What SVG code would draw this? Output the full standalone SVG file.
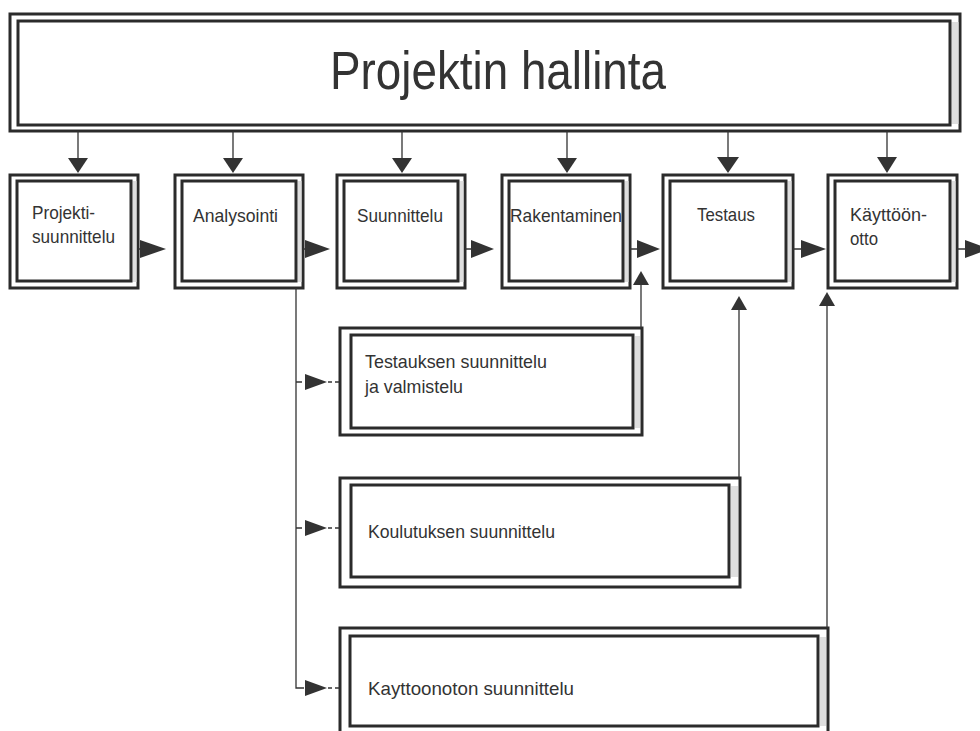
<svg xmlns="http://www.w3.org/2000/svg" width="980" height="731" viewBox="0 0 980 731">
  <style>
    .o { fill: #fff; stroke: #2b2b2b; stroke-width: 3; }
    .i { fill: #fff; stroke: #2b2b2b; stroke-width: 3; }
    .gap { fill: #dedede; }
    .t { font-family: "Liberation Sans Narrow", "Liberation Sans", Arial, sans-serif; font-size: 18.5px; fill: #333; }
    .title { font-family: "Liberation Sans Narrow", "Liberation Sans", Arial, sans-serif; font-size: 54px; fill: #333; }
    .ln { stroke: #333; stroke-width: 1.3; fill: none; }
    .dash { stroke: #333; stroke-width: 1.3; fill: none; stroke-dasharray: 4 3; }
    .ah { fill: #333; }
  </style>
  <rect width="980" height="731" fill="#fff"/>

  <!-- management bar -->
  <g id="projektin-hallinta">
    <rect class="o" x="10" y="14" width="950" height="117"/>
    <rect class="gap" x="951.5" y="22" width="7" height="102"/>
    <rect class="i" x="18" y="21" width="932" height="104"/>
    <text class="title" x="330" y="89" textLength="336" lengthAdjust="spacingAndGlyphs">Projektin hallinta</text>
  </g>

  <!-- phase boxes -->
  <g id="projektisuunnittelu">
    <rect class="o" x="10" y="175" width="128" height="113"/>
    <rect class="gap" x="132.5" y="181" width="4" height="101"/>
    <rect class="i" x="17" y="181" width="114" height="100"/>
    <text class="t" x="32" y="219" textLength="63" lengthAdjust="spacingAndGlyphs">Projekti-</text>
    <text class="t" x="32" y="243" textLength="83" lengthAdjust="spacingAndGlyphs">suunnittelu</text>
  </g>
  <g id="analysointi">
    <rect class="o" x="175" y="175" width="128" height="113"/>
    <rect class="gap" x="297.5" y="181" width="4" height="101"/>
    <rect class="i" x="182" y="181" width="114" height="100"/>
    <text class="t" x="193" y="222" textLength="85" lengthAdjust="spacingAndGlyphs">Analysointi</text>
  </g>
  <g id="suunnittelu">
    <rect class="o" x="337" y="175" width="128" height="113"/>
    <rect class="gap" x="459.5" y="181" width="4" height="101"/>
    <rect class="i" x="344" y="181" width="114" height="100"/>
    <text class="t" x="357" y="222" textLength="86" lengthAdjust="spacingAndGlyphs">Suunnittelu</text>
  </g>
  <g id="rakentaminen">
    <rect class="o" x="502" y="175" width="128" height="113"/>
    <rect class="gap" x="624.5" y="181" width="4" height="101"/>
    <rect class="i" x="509" y="181" width="114" height="100"/>
    <text class="t" x="510" y="222" textLength="112" lengthAdjust="spacingAndGlyphs">Rakentaminen</text>
  </g>
  <g id="testaus">
    <rect class="o" x="663" y="175" width="130" height="113"/>
    <rect class="gap" x="787.5" y="181" width="4" height="101"/>
    <rect class="i" x="670" y="181" width="116" height="100"/>
    <text class="t" x="697" y="221" textLength="58" lengthAdjust="spacingAndGlyphs">Testaus</text>
  </g>
  <g id="kayttoonotto">
    <rect class="o" x="828" y="175" width="129" height="113"/>
    <rect class="gap" x="951.5" y="181" width="4" height="101"/>
    <rect class="i" x="835" y="181" width="115" height="100"/>
    <text class="t" x="850" y="221" textLength="77" lengthAdjust="spacingAndGlyphs">Käyttöön-</text>
    <text class="t" x="850" y="245" textLength="28" lengthAdjust="spacingAndGlyphs">otto</text>
  </g>

  <!-- planning boxes -->
  <g id="testauksen-suunnittelu">
    <rect class="o" x="340" y="328" width="302" height="107"/>
    <rect class="gap" x="635" y="336" width="5" height="92"/>
    <rect class="i" x="351" y="335" width="282" height="93"/>
    <text class="t" x="365" y="368" textLength="182" lengthAdjust="spacingAndGlyphs">Testauksen suunnittelu</text>
    <text class="t" x="365" y="393" textLength="98" lengthAdjust="spacingAndGlyphs">ja valmistelu</text>
  </g>
  <g id="koulutuksen-suunnittelu">
    <rect class="o" x="340" y="478" width="400" height="109"/>
    <rect class="gap" x="731" y="486" width="7" height="91"/>
    <rect class="i" x="351" y="485" width="378" height="92"/>
    <text class="t" x="368" y="538" textLength="187" lengthAdjust="spacingAndGlyphs">Koulutuksen suunnittelu</text>
  </g>
  <g id="kayttoonoton-suunnittelu">
    <rect class="o" x="340" y="628" width="488" height="120"/>
    <rect class="gap" x="820" y="637" width="6" height="89"/>
    <rect class="i" x="350" y="636" width="468" height="90"/>
    <text class="t" x="368" y="695" textLength="206" lengthAdjust="spacingAndGlyphs">Kayttoonoton suunnittelu</text>
  </g>

  <!-- connectors -->
  <g id="connectors">
    <!-- from management down to each phase -->
    <path class="ln" d="M78 131V159M233 131V159M402 131V159M567 131V159M728 131V159M887 131V159"/>
    <polygon class="ah" points="68,158 88,158 78,173"/>
    <polygon class="ah" points="223,158 243,158 233,173"/>
    <polygon class="ah" points="392,158 412,158 402,173"/>
    <polygon class="ah" points="557,158 577,158 567,173"/>
    <polygon class="ah" points="717,157 739,157 728,173"/>
    <polygon class="ah" points="877,157 897,157 887,173"/>

    <!-- phase to phase -->
    <path class="ln" d="M138 249H141M303 249H306M465 249H471M630 249H637M793 249H801M957 249H965"/>
    <polygon class="ah" points="140,240 140,258 166,249"/>
    <polygon class="ah" points="305,240 305,258 330,249"/>
    <polygon class="ah" points="471,240 471,258 494,249"/>
    <polygon class="ah" points="637,240 637,258 660,249"/>
    <polygon class="ah" points="801,240 801,258 826,249"/>
    <polygon class="ah" points="965,240 965,258 990,249"/>

    <!-- branch from analysis to the planning boxes -->
    <path class="ln" d="M296 288V688H304M296 382H302M296 528H302"/>
    <polygon class="ah" points="305,374 305,390 327,382"/>
    <polygon class="ah" points="305,520 305,536 327,528"/>
    <polygon class="ah" points="305,680 305,696 327,688"/>
    <path class="dash" d="M328 382H340M328 528H340M328 688H340"/>

    <!-- planning boxes up to their phases -->
    <path class="ln" d="M641 328V284M739 478V309M827 628V305"/>
    <polygon class="ah" points="633,285 649,285 641,271"/>
    <polygon class="ah" points="731,310 747,310 739,296"/>
    <polygon class="ah" points="819,306 835,306 827,292"/>
  </g>
</svg>
